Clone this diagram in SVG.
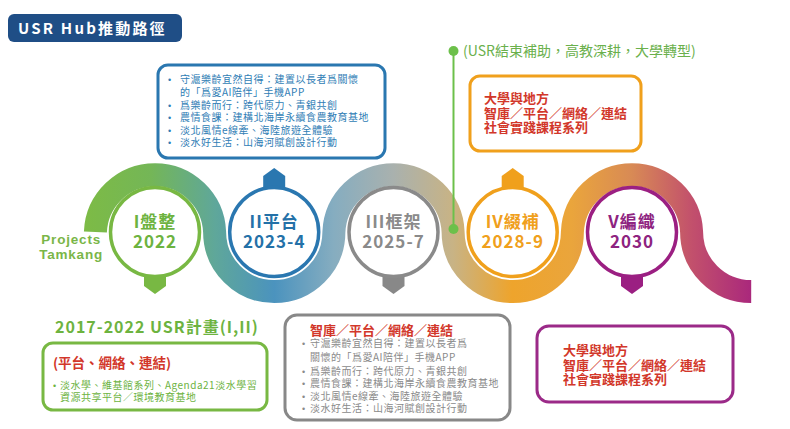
<svg xmlns="http://www.w3.org/2000/svg" width="790" height="429" viewBox="0 0 790 429">
<style>
text{font-family:"Noto Sans CJK TC","Noto Sans CJK SC","Liberation Sans",sans-serif;}
.b{font-weight:bold;}
.ct{font-size:17px;font-weight:bold;letter-spacing:1px;text-anchor:middle;}
.li{font-size:10px;letter-spacing:0.5px;}
.bu{font-family:"Liberation Sans",sans-serif;font-size:9px;letter-spacing:0;}
.rd{fill:#d2372a;font-weight:bold;font-size:13px;}
.box{fill:#fff;stroke-width:3;}
.circ{fill:#fff;stroke-width:3.5;}
.lat{font-family:"Liberation Sans",sans-serif;font-weight:bold;font-size:13.5px;letter-spacing:0.8px;fill:#7ab648;text-anchor:end;}
</style>
<defs>
<linearGradient id="band" gradientUnits="userSpaceOnUse" x1="83" y1="0" x2="763" y2="0">
<stop offset="0" stop-color="#7dbb45"/>
<stop offset="0.1" stop-color="#74b657"/>
<stop offset="0.194" stop-color="#5fa79a"/>
<stop offset="0.281" stop-color="#4b93be"/>
<stop offset="0.369" stop-color="#86adc0"/>
<stop offset="0.456" stop-color="#a9b1ae"/>
<stop offset="0.544" stop-color="#c8b385"/>
<stop offset="0.631" stop-color="#eea42c"/>
<stop offset="0.719" stop-color="#eaa53c"/>
<stop offset="0.807" stop-color="#d88a55"/>
<stop offset="0.896" stop-color="#c2506c"/>
<stop offset="1" stop-color="#a5207f"/>
</linearGradient>
</defs>
<rect width="790" height="429" fill="#fff"/>

<g id="title">
<rect x="8" y="14" width="174" height="28" rx="6" fill="#1f4e86"/>
<text x="18" y="33.5" class="b" font-size="15" fill="#fff" letter-spacing="2.2">USR Hub推動路徑</text>
</g>

<g id="connectors">
<path d="M95.4,232 A59.65,59.65 0 0 1 214.6,232 A59.65,59.65 0 0 0 333.9,232 A59.65,59.65 0 0 1 453.1,232 A59.65,59.65 0 0 0 572.4,232 A59.65,59.65 0 0 1 691.6,232 A59.65,59.65 0 0 0 751.2,291.6" fill="none" stroke="url(#band)" stroke-width="23"/>
<line x1="453.5" y1="51" x2="453.5" y2="229" stroke="#6cc04a" stroke-width="2"/>
<circle cx="453.5" cy="51" r="5" fill="#6cc04a"/>
<circle cx="453.5" cy="229" r="5" fill="#6cc04a"/>
</g>

<g id="node-I">
<polygon points="144,272 166,272 166,286 155,294 144,286" fill="#78b843"/>
<circle cx="155" cy="232" r="44.5" class="circ" stroke="#78b843"/>
<text x="155" y="228" class="ct" fill="#6db33f">I盤整</text>
<text x="155" y="248" class="ct" fill="#6db33f">2022</text>
</g>
<g id="projects-label">
<text x="101" y="243.5" class="lat">Projects</text>
<text x="103" y="259" class="lat">Tamkang</text>
</g>

<g id="node-II">
<polygon points="263.2,192 285.2,192 285.2,176 274.2,168 263.2,176" fill="#2a77b0"/>
<circle cx="274.2" cy="232" r="44.5" class="circ" stroke="#2a77b0"/>
<text x="274.2" y="228" class="ct" fill="#2471a8">II平台</text>
<text x="274.2" y="248" class="ct" fill="#2471a8">2023-4</text>
</g>

<g id="node-III">
<polygon points="382.5,272 404.5,272 404.5,286 393.5,294 382.5,286" fill="#888"/>
<circle cx="393.5" cy="232" r="44.5" class="circ" stroke="#8a8a8a"/>
<text x="393.5" y="228" class="ct" fill="#8a8a8a">III框架</text>
<text x="393.5" y="248" class="ct" fill="#8a8a8a">2025-7</text>
</g>

<g id="node-IV">
<polygon points="501.7,192 523.7,192 523.7,176 512.7,168 501.7,176" fill="#f0a01c"/>
<circle cx="512.7" cy="232" r="44.5" class="circ" stroke="#f0a01c"/>
<text x="512.7" y="228" class="ct" fill="#f0a01c">IV綴補</text>
<text x="512.7" y="248" class="ct" fill="#f0a01c">2028-9</text>
</g>

<g id="node-V">
<polygon points="621,272 643,272 643,286 632,294 621,286" fill="#9b1f82"/>
<circle cx="632" cy="232" r="44.5" class="circ" stroke="#9b1f82"/>
<text x="632" y="228" class="ct" fill="#8e2380">V編織</text>
<text x="632" y="248" class="ct" fill="#8e2380">2030</text>
</g>

<g id="box-II">
<rect x="158" y="65" width="227" height="93" rx="10" class="box" stroke="#2a77b0"/>
<g class="li" fill="#2f7db5">
<text y="82.5"><tspan x="168" class="bu">•</tspan><tspan x="180">守滬樂齡宜然自得：建置以長者爲關懷</tspan></text>
<text y="96" x="180">的「爲愛AI陪伴」手機APP</text>
<text y="108.5"><tspan x="168" class="bu">•</tspan><tspan x="180">爲樂齡而行：跨代原力、青銀共創</tspan></text>
<text y="121"><tspan x="168" class="bu">•</tspan><tspan x="180">農情食課：建構北海岸永續食農教育基地</tspan></text>
<text y="133.5"><tspan x="168" class="bu">•</tspan><tspan x="180">淡北風情e線牽、海陸旅遊全體驗</tspan></text>
<text y="146"><tspan x="168" class="bu">•</tspan><tspan x="180">淡水好生活：山海河賦創設計行動</tspan></text>
</g>
</g>

<g id="usr-end-label">
<text x="463" y="56" font-size="14" fill="#6ab04c">(USR結束補助，高教深耕，大學轉型)</text>
</g>

<g id="box-IV">
<rect x="470" y="76" width="171" height="75" rx="10" class="box" stroke="#f0a01c"/>
<text x="484" y="103" class="rd">大學與地方</text>
<text x="484" y="117.5" class="rd">智庫／平台／網絡／連結</text>
<text x="484" y="132" class="rd">社會實踐課程系列</text>
</g>

<g id="box-I">
<text x="55" y="333" class="b" font-size="16" fill="#6db33f" letter-spacing="1">2017-2022  USR計畫(I,II)</text>
<rect x="43" y="343" width="224" height="67" rx="10" class="box" stroke="#78b843"/>
<text x="53" y="368" class="b" font-size="13.5" fill="#d2372a">(平台、網絡、連結)</text>
<g class="li" fill="#6db33f">
<text y="388.5"><tspan x="53" class="bu">•</tspan><tspan x="60">淡水學、維基館系列、Agenda21淡水學習</tspan></text>
<text y="401" x="60">資源共享平台／環境教育基地</text>
</g>
</g>

<g id="box-III">
<rect x="285" y="315" width="225" height="105" rx="12" class="box" stroke="#888"/>
<text x="310" y="334.5" class="rd" font-size="13.5">智庫／平台／網絡／連結</text>
<g class="li" fill="#8a8a8a">
<text y="347"><tspan x="302" class="bu">•</tspan><tspan x="310">守滬樂齡宜然自得：建置以長者爲</tspan></text>
<text y="360.5" x="310">關懷的「爲愛AI陪伴」手機APP</text>
<text y="374.5"><tspan x="302" class="bu">•</tspan><tspan x="310">爲樂齡而行：跨代原力、青銀共創</tspan></text>
<text y="386.5"><tspan x="302" class="bu">•</tspan><tspan x="310">農情食課：建構北海岸永續食農教育基地</tspan></text>
<text y="399.5"><tspan x="302" class="bu">•</tspan><tspan x="310">淡北風情e線牽、海陸旅遊全體驗</tspan></text>
<text y="411.5"><tspan x="302" class="bu">•</tspan><tspan x="310">淡水好生活：山海河賦創設計行動</tspan></text>
</g>
</g>

<g id="box-V">
<rect x="537" y="326" width="196" height="76" rx="12" class="box" stroke="#9b2a88"/>
<text x="563" y="355" class="rd">大學與地方</text>
<text x="563" y="369.5" class="rd">智庫／平台／網絡／連結</text>
<text x="563" y="384" class="rd">社會實踐課程系列</text>
</g>
</svg>
